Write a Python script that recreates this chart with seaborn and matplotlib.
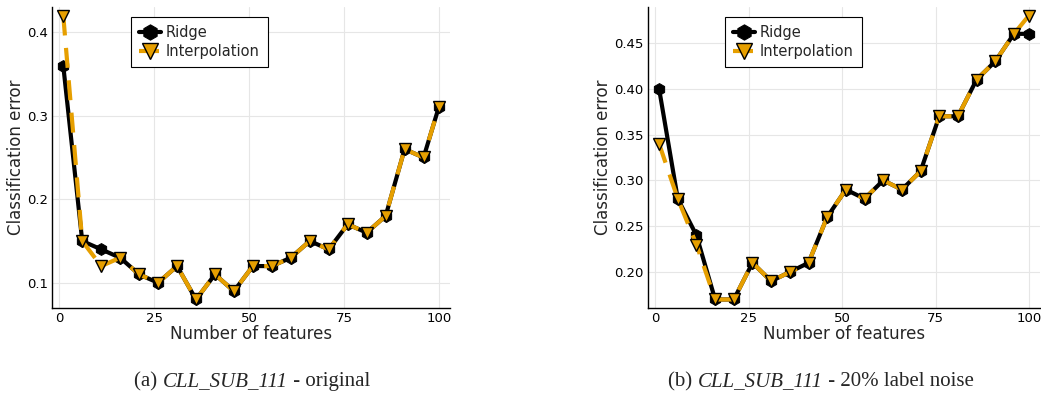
import matplotlib
matplotlib.use("Agg")
import matplotlib.pyplot as plt
import seaborn as sns
import numpy as np

features = [1, 6, 11, 16, 21, 26, 31, 36, 41, 46, 51, 56, 61, 66, 71, 76, 81, 86, 91, 96, 100]

ridge_a = [0.36, 0.15, 0.14, 0.13, 0.11, 0.10, 0.12, 0.08, 0.11, 0.09, 0.12,
           0.12, 0.13, 0.15, 0.14, 0.17, 0.16, 0.18, 0.26, 0.25, 0.31]
interp_a = [0.42, 0.15, 0.12, 0.13, 0.11, 0.10, 0.12, 0.08, 0.11, 0.09, 0.12,
            0.12, 0.13, 0.15, 0.14, 0.17, 0.16, 0.18, 0.26, 0.25, 0.31]

ridge_b = [0.40, 0.28, 0.24, 0.17, 0.17, 0.21, 0.19, 0.20, 0.21, 0.26, 0.29,
           0.28, 0.30, 0.29, 0.31, 0.37, 0.37, 0.41, 0.43, 0.46, 0.46]
interp_b = [0.34, 0.28, 0.23, 0.17, 0.17, 0.21, 0.19, 0.20, 0.21, 0.26, 0.29,
            0.28, 0.30, 0.29, 0.31, 0.37, 0.37, 0.41, 0.43, 0.46, 0.48]

xticks = [0, 25, 50, 75, 100]
yticks_a = [0.1, 0.2, 0.3, 0.4]
yticks_b = [0.20, 0.25, 0.30, 0.35, 0.40, 0.45]

sns.set_style("white")
plt.rcParams['font.family'] = ['DejaVu Sans']

ORANGE = "#E69F00"

fig = plt.figure(figsize=(10.41, 4.0), dpi=100)
W, H = 1041, 400
ax_a = fig.add_axes([52 / W, 1 - 308 / H, (450 - 52) / W, (308 - 7) / H])
ax_b = fig.add_axes([648 / W, 1 - 308 / H, (1040 - 648) / W, (308 - 7) / H])


def draw(ax, ridge, interp, yticks, yfmt, leg_x):
    sns.lineplot(x=features, y=ridge, ax=ax, color="black", lw=3.0,
                 marker="h", markersize=8.5, markeredgecolor="black",
                 markerfacecolor="black", label="Ridge", zorder=3)
    sns.lineplot(x=features, y=interp, ax=ax, color=ORANGE, lw=3.0,
                 marker="v", markersize=9, markeredgecolor="black",
                 markeredgewidth=1.0, markerfacecolor=ORANGE,
                 label="Interpolation", zorder=4)
    ax.lines[-1].set_dashes([4.8, 3.0])
    allv = np.array(ridge + interp)
    lo, hi = allv.min(), allv.max()
    m = 0.03 * (hi - lo)
    ax.set_ylim(lo - m, hi + m)
    xm = 0.03 * (max(features) - min(features))
    ax.set_xlim(min(features) - xm, max(features) + xm)
    ax.set_xticks(xticks)
    ax.set_yticks(yticks)
    ax.set_yticklabels([yfmt.format(v) for v in yticks])
    ax.grid(True, color="#e6e6e6", lw=0.8)
    ax.set_axisbelow(True)
    for s in ["top", "right"]:
        ax.spines[s].set_visible(False)
    for s in ["left", "bottom"]:
        ax.spines[s].set_color("black")
        ax.spines[s].set_linewidth(1.0)
    ax.tick_params(axis="both", direction="in", length=3, labelsize=9.5,
                   colors="black", width=0.8, pad=3)
    ax.set_xlabel("Number of features", fontsize=12, labelpad=0)
    ax.set_ylabel("Classification error", fontsize=12, labelpad=1.5)
    leg = ax.legend(loc="upper left", bbox_to_anchor=(leg_x, 0.967),
                    borderaxespad=0, fontsize=10.5, markerscale=1.3,
                    frameon=True, fancybox=False, handlelength=1.5,
                    handletextpad=0.35, borderpad=0.55, labelspacing=0.3)
    leg.get_frame().set_edgecolor("black")
    leg.get_frame().set_linewidth(0.8)
    leg.get_frame().set_alpha(1)


draw(ax_a, ridge_a, interp_a, yticks_a, "{:.1f}", (131 - 52) / 398)
draw(ax_b, ridge_b, interp_b, yticks_b, "{:.2f}", (725 - 648) / 392)

serif = ['Liberation Serif', 'DejaVu Serif']


def caption(cx, lead, ital, tail):
    t1 = fig.text(0, 0, lead, family=serif, fontsize=15)
    t2 = fig.text(0, 0, ital, family=serif, fontsize=15, style="italic")
    t3 = fig.text(0, 0, tail, family=serif, fontsize=15)
    fig.canvas.draw()
    r = fig.canvas.get_renderer()
    ws = [t.get_window_extent(r).width for t in (t1, t2, t3)]
    total = sum(ws)
    x = cx - total / 2
    y = 1 - 386 / H
    for t, w in zip((t1, t2, t3), ws):
        t.set_position((x / W, y))
        x += w


caption(252, "(a) ", "CLL_SUB_111", " - original")
caption(821, "(b) ", "CLL_SUB_111", " - 20% label noise")

fig.savefig("out.png", dpi=100)
